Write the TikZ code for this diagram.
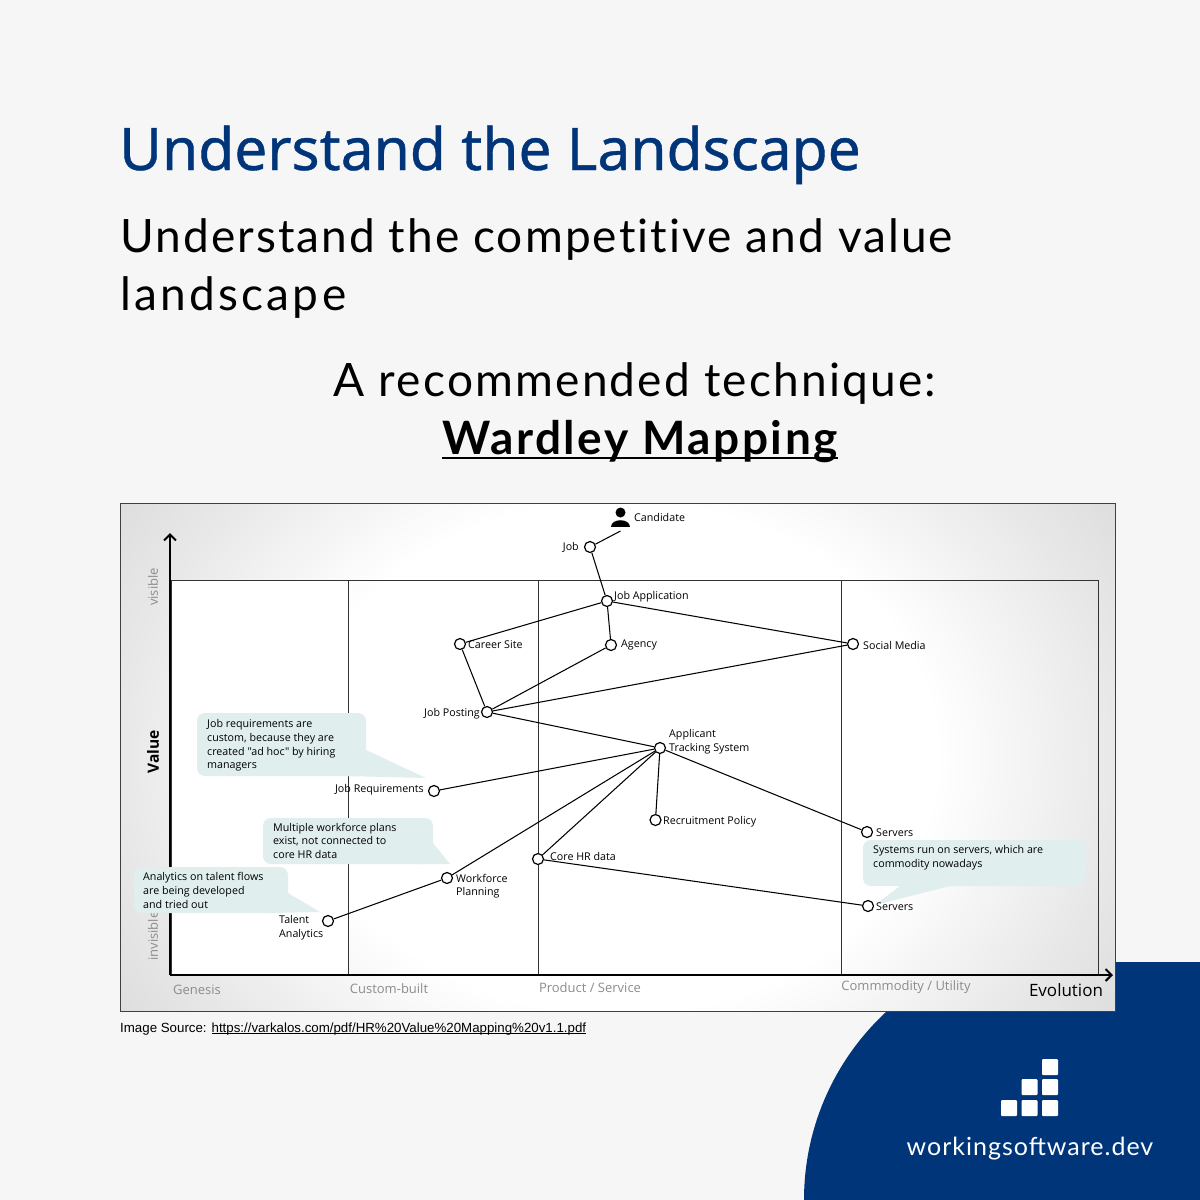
\documentclass[tikz,border=0pt]{standalone}
\usepackage{fontspec}
\setmainfont{Open Sans}
\newfontfamily\titlefont{Noto Sans}[FakeBold=0.7]
\newfontfamily\subfont{Lato}[LetterSpace=4.8,Ligatures=NoCommon]
\newfontfamily\subline{Lato}[LetterSpace=4.5,Ligatures=NoCommon]
\newfontfamily\subwide{Lato}[LetterSpace=7.1,Ligatures=NoCommon]
\newfontfamily\subbold{Lato}[LetterSpace=5.5,Ligatures=NoCommon,BoldFont=Lato Bold]
\newfontfamily\brandfont{Lato}[LetterSpace=4]
\newfontfamily\mapfont{Open Sans}
\newfontfamily\srcfont{Liberation Sans}
\usetikzlibrary{arrows.meta}
\definecolor{bgc}{HTML}{F6F6F6}
\definecolor{navy}{HTML}{00357A}
\definecolor{callc}{HTML}{E0EEEE}
\definecolor{labgray}{HTML}{8C8C8C}
\definecolor{edgec}{HTML}{E8E8E8}
\definecolor{cornerc}{HTML}{DDDDDD}
\pgfdeclareradialshading{mapshade}{\pgfpoint{0bp}{0bp}}{color(0bp)=(white);color(16bp)=(white);color(25bp)=(edgec);color(30bp)=(cornerc);color(50bp)=(cornerc)}
\newsavebox{\ulbox}
\newcommand{\ulnow}[3]{\sbox{\ulbox}{#3}\rlap{\rule[#1]{\wd\ulbox}{#2}}\usebox{\ulbox}}
\tikzset{
 comp/.style={circle,draw=black,fill=white,line width=1.2pt,minimum size=11pt,inner sep=0pt},
 link/.style={draw=black,line width=1.05pt},
 lab/.style={font=\mapfont\fontsize{10.7}{13.6}\selectfont,text=black,inner sep=0pt,align=left},
 axlab/.style={font=\mapfont\fontsize{13}{15}\selectfont,text=labgray,inner sep=0pt},
 grid/.style={draw=black!80,line width=1pt},
 axis/.style={draw=black,line width=2.8pt,-{Straight Barb[length=6pt,width=12pt,line width=2pt]}},
 call/.style={fill=callc,draw=none,rounded corners=8pt},
 calltail/.style={fill=callc,draw=none},
 head/.style={font=\subfont\fontsize{46}{58}\selectfont,text=black,inner sep=0pt,anchor=base west},
}
\begin{document}
\begin{tikzpicture}[x=1pt,y=-1pt]
\useasboundingbox (0,0) rectangle (1200,1200);
\fill[bgc] (0,0) rectangle (1200,1200);
% blue corner
\begin{scope}
\clip (700,962) rectangle (1200,1200);
\fill[navy] (1060.5,1200) circle[radius=256.5];
\fill[navy] (1060,962) rectangle (1200,1200);
\end{scope}
% texts
\node[font=\titlefont\fontsize{58.6}{70}\selectfont,text=navy,inner sep=0pt,anchor=base west] (title) at (119,170) {Understand the Landscape};
\node[head,font=\subline\fontsize{46}{58}\selectfont] (sub1) at (120,252) {Understand the competitive and value};
\node[head,font=\subwide\fontsize{46}{58}\selectfont] (sub2) at (120,310) {landscape};
\node[head,anchor=base] (rec) at (635,396) {A recommended technique:};
\node[font=\subbold\fontsize{46}{58}\bfseries\selectfont,text=black,inner sep=0pt,anchor=base] (wm) at (640,454) {\ulnow{-5pt}{2.5pt}{Wardley Mapping}};
% map frame
\begin{scope}
\clip (120.5,503.5) rectangle (1115.5,1011);
\shade[shading=mapshade] (120.5,357) rectangle (1115.5,1157);
\end{scope}
\draw[black!75,line width=1pt] (120.5,503.5) rectangle (1115.5,1011);
% plot
\fill[white] (171,580.5) rectangle (348,975);
\draw[grid] (171,580.5) rectangle (1098,975);
\draw[grid] (348,580.5) -- (348,975);
\draw[grid] (538,580.5) -- (538,975);
\draw[grid] (841,580.5) -- (841,975);
\coordinate (orig) at (170,975);
\coordinate (ytip) at (170,533);
\coordinate (xtip) at (1113,975);
\draw[axis] (orig) -- (ytip);
\draw[axis] (orig) -- (xtip);
% axis labels
\node[axlab,rotate=90] (vis) at (153,587) {visible};
\node[axlab,rotate=90] (invis) at (153,936) {invisible};
\node[font=\mapfont\fontsize{15.5}{18}\bfseries\selectfont,text=black,inner sep=0pt,rotate=90] (val) at (153,752) {Value};
\node[axlab] (g1) at (197,990) {Genesis};
\node[axlab] (g2) at (389,989) {Custom-built};
\node[axlab] (g3) at (590,988) {Product / Service};
\node[axlab] (g4) at (906,987) {Commmodity / Utility};
\node[font=\mapfont\fontsize{17}{20}\selectfont,text=black,inner sep=0pt] (evo) at (1066,990) {Evolution};
% callouts
\fill[calltail] (366,750) -- (426,778) -- (345,776) -- cycle;
\fill[call] (197,713) rectangle (366,776);
\fill[calltail] (433,843) -- (450,864) -- (418,864) -- cycle;
\fill[call] (263,818) rectangle (433,864);
\fill[calltail] (288,893) -- (320,912) -- (270,913) -- cycle;
\fill[call] (134,867) rectangle (288,913);
\fill[calltail] (900,886) -- (875,905) -- (950,886) -- cycle;
\fill[call] (863,840) rectangle (1086,886);
\node[lab,anchor=north west] (c1) at (207,719.5) {Job requirements are\\custom, because they are\\created "ad hoc" by hiring\\managers};
\node[lab,anchor=north west] (c2) at (273,823) {Multiple workforce plans\\exist, not connected to\\core HR data};
\node[lab,anchor=north west] (c3) at (143,872.5) {Analytics on talent flows\\are being developed\\and tried out};
\node[lab,anchor=north west] (c4) at (873,845.5) {Systems run on servers, which are\\commodity nowadays};
% candidate icon
\fill[black] (620.5,512.5) circle[radius=5];
\fill[black] (611,527) .. controls (611,518) and (630,518) .. (630,527) -- cycle;
\coordinate (cand) at (620.5,531);
% components
\node[comp] (job) at (590,547) {};
\node[comp] (app) at (607,601) {};
\node[comp] (career) at (460,644) {};
\node[comp] (agency) at (611,645) {};
\node[comp] (social) at (853,644) {};
\node[comp] (posting) at (487,712) {};
\node[comp] (ats) at (660,748) {};
\node[comp] (req) at (434,791) {};
\node[comp] (policy) at (655.5,820) {};
\node[comp] (srvA) at (867,832) {};
\node[comp] (core) at (538,859) {};
\node[comp] (wf) at (447,878) {};
\node[comp] (talent) at (328,921) {};
\node[comp] (srvB) at (868,906) {};
% links
\draw[link] (cand) -- (job);
\draw[link] (job) -- (app);
\draw[link] (app) -- (career);
\draw[link] (app) -- (agency);
\draw[link] (app) -- (social);
\draw[link] (career) -- (posting);
\draw[link] (agency) -- (posting);
\draw[link] (social) -- (posting);
\draw[link] (posting) -- (ats);
\draw[link] (ats) -- (req);
\draw[link] (ats) -- (policy);
\draw[link] (ats) -- (srvA);
\draw[link] (ats) -- (core);
\draw[link] (ats) -- (wf);
\draw[link] (wf) -- (talent);
\draw[link] (core) -- (srvB);
% labels
\node[lab,anchor=west] (l1) at (634,517) {Candidate};
\node[lab,anchor=east] (l2) at (579,547.5) {Job};
\node[lab,anchor=west] (l3) at (614,596.5) {Job Application};
\node[lab,anchor=west] (l4) at (468,644.5) {Career Site};
\node[lab,anchor=west] (l5) at (621,644.5) {Agency};
\node[lab,anchor=west] (l6) at (863,645) {Social Media};
\node[lab,anchor=east] (l7) at (480,713.5) {Job Posting};
\node[lab,anchor=north west] (l8) at (669,729.5) {Applicant\\Tracking System};
\node[lab,anchor=east] (l9) at (424,790) {Job Requirements};
\node[lab,anchor=west] (l10) at (663,821.5) {Recruitment Policy};
\node[lab,anchor=west] (l11) at (876,833) {Servers};
\node[lab,anchor=west] (l12) at (550,856.5) {Core HR data};
\node[lab,anchor=north west] (l13) at (456,874) {Workforce\\Planning};
\node[lab,anchor=north west] (l14) at (279,915.5) {Talent\\Analytics};
\node[lab,anchor=west] (l15) at (876,907) {Servers};
% source
\node[font=\srcfont\fontsize{13.3}{15}\selectfont,text=black,inner sep=0pt,anchor=base west] (src) at (120,1032) {Image Source: \ulnow{-1.5pt}{0.7pt}{https://varkalos.com/pdf/HR\%20Value\%20Mapping\%20v1.1.pdf}};
% logo
\foreach \lx/\ly in {1042/1059,1042/1079,1021.5/1079,1001/1100,1021.5/1100,1042/1100}{
 \fill[white,rounded corners=1pt] (\lx,\ly) rectangle ++(16,16);
}
\node[font=\brandfont\fontsize{25}{30}\selectfont,text=white,inner sep=0pt,anchor=base] (brand) at (1030,1155) {workingsoftware.dev};
\end{tikzpicture}
\end{document}
